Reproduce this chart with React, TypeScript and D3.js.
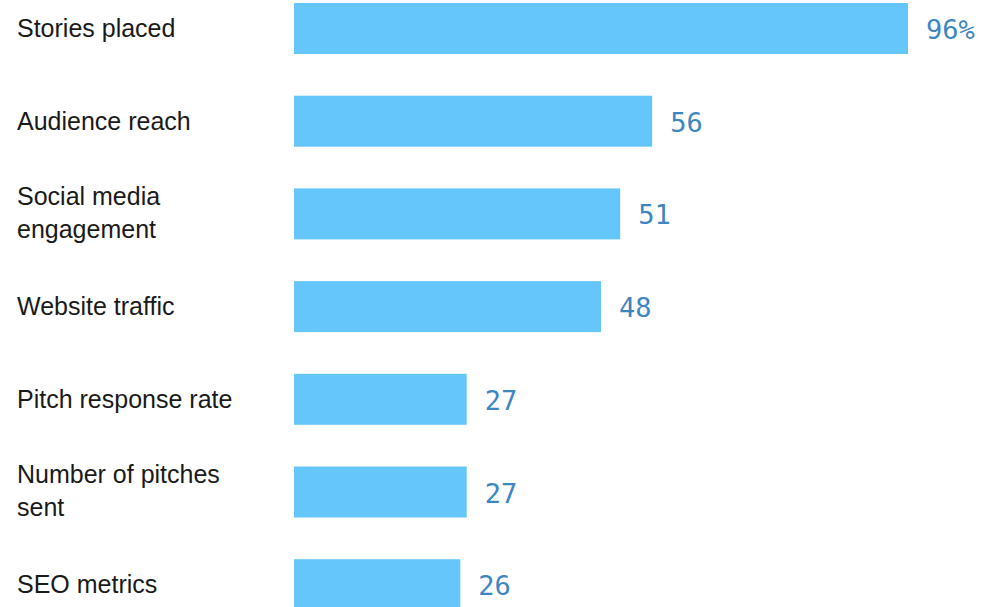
import React from "react";
import * as d3 from "d3";

const categories: string[][] = [
  ["Stories placed"],
  ["Audience reach"],
  ["Social media", "engagement"],
  ["Website traffic"],
  ["Pitch response rate"],
  ["Number of pitches", "sent"],
  ["SEO metrics"],
];
const values: number[] = [96, 56, 51, 48, 27, 27, 26];
const valueLabels: string[] = ["96%", "56", "51", "48", "27", "27", "26"];

const W = 991;
const H = 607;
const BAR_COLOR = "#64c6fa";
const VALUE_COLOR = "#3d86c0";
const LABEL_COLOR = "#1a1a1a";

export default function App() {
  const keys = categories.map((c) => c.join(" "));
  const x = d3.scaleLinear().domain([0, 96]).range([294, 908]);
  const y = d3
    .scaleBand<string>()
    .domain(keys)
    .range([3, 610.2])
    .paddingInner(0.45)
    .paddingOuter(0)
    .align(0);
  const bw = y.bandwidth();

  return (
    <svg
      width={W}
      height={H}
      style={{ position: "absolute", left: 0, top: 0, background: "#fff" }}
    >
      <rect x={0} y={0} width={W} height={H} fill="#fff" />
      {keys.map((k, i) => {
        const y0 = y(k)!;
        const cy = y0 + bw / 2;
        const lines = categories[i];
        return (
          <g key={k}>
            <rect
              x={x(0)}
              y={y0}
              width={x(values[i]) - x(0)}
              height={bw}
              fill={BAR_COLOR}
            />
            <text
              x={x(values[i]) + 18}
              y={cy + 10.5}
              fill={VALUE_COLOR}
              fontFamily="'DejaVu Sans Mono', monospace"
              fontSize={27}
            >
              {valueLabels[i]}
            </text>
            {lines.length === 1 ? (
              <text
                x={17}
                y={cy + 8.5}
                fill={LABEL_COLOR}
                fontFamily="'Liberation Sans', Arial, sans-serif"
                fontSize={25}
              >
                {lines[0]}
              </text>
            ) : (
              lines.map((ln, j) => (
                <text
                  key={j}
                  x={17}
                  y={cy - 9 + j * 33}
                  fill={LABEL_COLOR}
                  fontFamily="'Liberation Sans', Arial, sans-serif"
                  fontSize={25}
                >
                  {ln}
                </text>
              ))
            )}
          </g>
        );
      })}
    </svg>
  );
}
